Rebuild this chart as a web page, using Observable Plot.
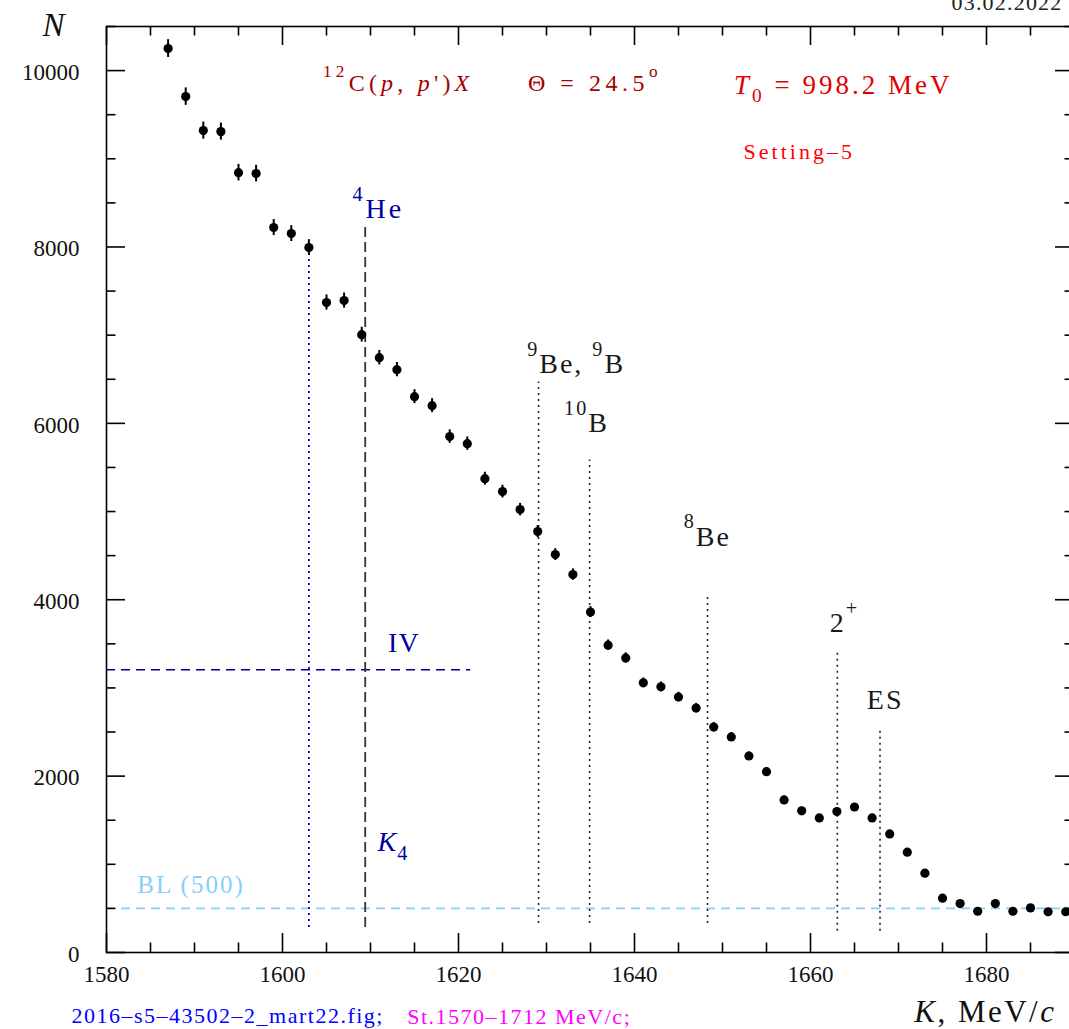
<!DOCTYPE html>
<html>
<head>
<meta charset="utf-8">
<script src="https://cdn.jsdelivr.net/npm/d3@7"></script>
<script src="https://cdn.jsdelivr.net/npm/@observablehq/plot@0.6"></script>
<style>
  html, body { margin: 0; padding: 0; background: #fff; }
  svg { display: block; }
</style>
</head>
<body>
<script>
// ---- data ----
const momentum = [1587,1589,1591,1593,1595,1597,1599,1601,1603,1605,1607,1609,1611,1613,1615,1617,1619,1621,1623,1625,1627,1629,1631,1633,1635,1637,1639,1641,1643,1645,1647,1649,1651,1653,1655,1657,1659,1661,1663,1665,1667,1669,1671,1673,1675,1677,1679,1681,1683,1685,1687,1689];
const counts = [10250,9705,9320,9308,8843,8832,8220,8152,7994,7370,7392,7006,6745,6609,6303,6201,5850,5770,5373,5226,5022,4773,4512,4285,3860,3485,3340,3058,3012,2897,2772,2556,2444,2228,2050,1730,1607,1526,1598,1650,1526,1345,1138,900,616,555,468,555,468,506,462,462];
const errors = [101,99,97,96,94,94,91,90,89,86,86,84,82,81,79,79,76,76,73,72,71,69,67,65,62,59,58,55,55,54,53,51,49,47,45,42,40,39,40,41,39,37,34,30,25,24,22,24,22,23,22,22];

const xMajor = [1580,1600,1620,1640,1660,1680];
const xMinor = [1585,1590,1595,1605,1610,1615,1625,1630,1635,1645,1650,1655,1665,1670,1675,1685,1690];
const yMajor = [0,2000,4000,6000,8000,10000];
const yMinor = [500,1000,1500,2500,3000,3500,4500,5000,5500,6500,7000,7500,8500,9000,9500,10500];

// vertical marker lines (black dotted): 9Be/9B, 10B, 8Be, 2+, ES
const dotK = [1629.1, 1634.9, 1648.3, 1663.05, 1667.9];
const dotTop = [6470, 5585, 4065, 3410, 2540];
const dotBottom = [330, 330, 330, 240, 240];
const dotLabels = ["^{9}Be, ^{9}B", "^{10}B", "^{8}Be", "2^{+}", "ES"];
const dotLabelK = [1627.8, 1632.0, 1645.6, 1662.2, 1666.4];
const dotLabelN = [6569, 5900, 4615, 3632, 2763];

// K4 (dashed black) and threshold (dotted blue)
const k4Line = [{k: 1609.4, lo: 283, hi: 8226}];
const blueLine = [{k: 1603, lo: 283, hi: 7994}];
// IV horizontal level and baseline BL
const ivLevel = [{n: 3206, from: 1580, to: 1621.4}];
const blLevel = [{n: 500, from: 1580, to: 1690}];

const blueLabels = ["^{4}He", "IV", "~{K}_{4}"];
const blueLabelK = [1607.95, 1612.0, 1610.8];
const blueLabelN = [8323, 3405, 1149];

const blLabel = ["BL (500)"];
const blLabelK = [1583.5];
const blLabelN = [680];

const title1 = ["^{12}C(~{p}, ~{p}')~{X}"], title1K = [1604.6], title1N = [9763];
const title2 = ["Θ = 24.5^{o}"], title2K = [1627.9], title2N = [9763];
const title3 = ["~{T}_{0} = 998.2 MeV"], title3K = [1651.3], title3N = [9740];
const setting = ["Setting–5"], settingK = [1652.4], settingN = [9000];

const yLabel = ["~{N}"];
const xLabel = ["~{K}, MeV/~{c}"];
const dateText = ["03.02.2022"];
const fileText = ["2016–s5–43502–2_mart22.fig;"];
const rangeText = ["St.1570–1712 MeV/c;"];

const pts = momentum.map((k, i) => ({k, n: counts[i], e: errors[i]}));

// ---- layout ----
const W = 1069, H = 1029;
const mT = 26, mB = 77, mL = 106, mR = -5;
const plotH = H - mT - mB;
const plotW = W - mL - mR;
const serif = "Liberation Serif, Times New Roman, serif";

// letter spacing (px) for each annotation text
const spacing = new Map([
  ...dotLabels.map(s => [s, 2]),
  [blueLabels[0], 3], [blueLabels[1], 1], [blueLabels[2], 1],
  [blLabel[0], 2],
  [title1[0], 4.2], [title2[0], 4.5], [title3[0], 3], [setting[0], 3],
  [xLabel[0], 2.5], [dateText[0], 1.2], [fileText[0], 1.5], [rangeText[0], 1.5]
]);

const plot = Plot.plot({
  width: W, height: H,
  marginTop: mT, marginBottom: mB, marginLeft: mL, marginRight: mR,
  x: {domain: [1580, 1690], axis: null},
  y: {domain: [0, 10500], axis: null},
  style: {fontFamily: serif, background: "white"},
  marks: [
    // reference lines
    Plot.ruleY(blLevel, {y: "n", x1: "from", x2: "to", stroke: "#87cefa", strokeWidth: 1.6, strokeDasharray: "9,6"}),
    Plot.ruleY(ivLevel, {y: "n", x1: "from", x2: "to", stroke: "#00008b", strokeWidth: 1.6, strokeDasharray: "9,6"}),
    Plot.ruleX(blueLine, {x: "k", y1: "lo", y2: "hi", stroke: "#0000b4", strokeWidth: 1.8, strokeDasharray: "2,4"}),
    Plot.ruleX(k4Line, {x: "k", y1: "lo", y2: "hi", stroke: "#333", strokeWidth: 1.8, strokeDasharray: "10,5"}),
    Plot.ruleX(dotK, {x: d => d, y1: (d, i) => dotBottom[i], y2: (d, i) => dotTop[i], stroke: "#222", strokeWidth: 1.6, strokeDasharray: "2,4"}),

    // frame and inward ticks
    Plot.frame({stroke: "black", strokeWidth: 1.6}),
    Plot.ruleX(xMajor, {x: d => d, insetTop: plotH - 19, stroke: "black", strokeWidth: 1.6}),
    Plot.ruleX(xMinor, {x: d => d, insetTop: plotH - 9.5, stroke: "black", strokeWidth: 1.6}),
    Plot.ruleX(xMajor, {x: d => d, insetBottom: plotH - 19, stroke: "black", strokeWidth: 1.6}),
    Plot.ruleX(xMinor, {x: d => d, insetBottom: plotH - 9.5, stroke: "black", strokeWidth: 1.6}),
    Plot.ruleY(yMajor, {y: d => d, insetRight: plotW - 19, stroke: "black", strokeWidth: 1.6}),
    Plot.ruleY(yMinor, {y: d => d, insetRight: plotW - 9.5, stroke: "black", strokeWidth: 1.6}),
    Plot.ruleY(yMajor, {y: d => d, insetLeft: plotW - 19, stroke: "black", strokeWidth: 1.6}),
    Plot.ruleY(yMinor, {y: d => d, insetLeft: plotW - 9.5, stroke: "black", strokeWidth: 1.6}),

    // tick labels
    Plot.axisX(xMajor, {anchor: "bottom", tickSize: 0, tickPadding: 13, fontSize: 23, fill: "#111", label: null, tickFormat: d => String(d)}),
    Plot.axisY(yMajor, {anchor: "left", tickSize: 0, tickPadding: 27, dy: 2, fontSize: 23, fill: "#111", label: null, tickFormat: d => String(d)}),

    // data: error bars + points
    Plot.ruleX(pts, {x: "k", y1: d => d.n - d.e, y2: d => d.n + d.e, stroke: "black", strokeWidth: 2}),
    Plot.dot(pts, {x: "k", y: "n", r: 4.6, fill: "black", stroke: null}),

    // annotations in data coordinates
    Plot.text(dotLabels, {x: (d, i) => dotLabelK[i], y: (d, i) => dotLabelN[i], text: d => d, textAnchor: "start", lineAnchor: "bottom", fontSize: 28, fill: "#1a1a1a"}),
    Plot.text(blueLabels, {x: (d, i) => blueLabelK[i], y: (d, i) => blueLabelN[i], text: d => d, textAnchor: "start", lineAnchor: "bottom", fontSize: 28, fill: "#0000a0"}),
    Plot.text(blLabel, {x: (d, i) => blLabelK[i], y: (d, i) => blLabelN[i], text: d => d, textAnchor: "start", lineAnchor: "bottom", fontSize: 25, fill: "#87cefa"}),
    Plot.text(title1, {x: (d, i) => title1K[i], y: (d, i) => title1N[i], text: d => d, textAnchor: "start", lineAnchor: "bottom", fontSize: 24, fill: "#a50000"}),
    Plot.text(title2, {x: (d, i) => title2K[i], y: (d, i) => title2N[i], text: d => d, textAnchor: "start", lineAnchor: "bottom", fontSize: 24, fill: "#a50000"}),
    Plot.text(title3, {x: (d, i) => title3K[i], y: (d, i) => title3N[i], text: d => d, textAnchor: "start", lineAnchor: "bottom", fontSize: 27, fill: "#e00000"}),
    Plot.text(setting, {x: (d, i) => settingK[i], y: (d, i) => settingN[i], text: d => d, textAnchor: "start", lineAnchor: "bottom", fontSize: 22, fill: "#ff0000"}),

    // texts outside the plotting area
    Plot.text(yLabel, {frameAnchor: "top-left", text: d => d, textAnchor: "start", lineAnchor: "bottom", dx: -64, dy: 9, fontSize: 33, fill: "#111"}),
    Plot.text(dateText, {frameAnchor: "top-right", text: d => d, textAnchor: "end", lineAnchor: "bottom", dx: -12, dy: -17, fontSize: 22, fill: "#222"}),
    Plot.text(fileText, {frameAnchor: "bottom-left", text: d => d, textAnchor: "start", lineAnchor: "bottom", dx: -35, dy: 70, fontSize: 22, fill: "#0000ff"}),
    Plot.text(rangeText, {frameAnchor: "bottom-left", text: d => d, textAnchor: "start", lineAnchor: "bottom", dx: 300.7, dy: 71, fontSize: 22, fill: "#ff00ff"}),
    Plot.text(xLabel, {frameAnchor: "bottom-right", text: d => d, textAnchor: "end", lineAnchor: "bottom", dx: -18, dy: 69, fontSize: 31, fill: "#111"})
  ]
});

document.body.appendChild(plot);

// letter spacing + rich text: ^{sup}, _{sub}, ~{italic}
plot.querySelectorAll("text").forEach(t => {
  const s = t.textContent;
  if (spacing.has(s)) t.style.letterSpacing = spacing.get(s) + "px";
  if (!/[\^_~]\{/.test(s)) return;
  const fs = parseFloat(getComputedStyle(t).fontSize) || 20;
  while (t.firstChild) t.removeChild(t.firstChild);
  let shift = 0;
  const add = (str, kind) => {
    if (!str) return;
    const ts = document.createElementNS("http://www.w3.org/2000/svg", "tspan");
    let target = 0;
    if (kind === "^") { target = -0.62 * fs; ts.setAttribute("font-size", (0.72 * fs).toFixed(1)); }
    else if (kind === "_") { target = 0.3 * fs; ts.setAttribute("font-size", (0.72 * fs).toFixed(1)); }
    else if (kind === "~") { ts.setAttribute("font-style", "italic"); }
    if (target - shift !== 0) ts.setAttribute("dy", (target - shift).toFixed(1));
    shift = target;
    ts.textContent = str;
    t.appendChild(ts);
  };
  const re = /([\^_~])\{([^}]*)\}/g;
  let last = 0, m;
  while ((m = re.exec(s))) {
    add(s.slice(last, m.index), "");
    add(m[2], m[1]);
    last = re.lastIndex;
  }
  add(s.slice(last), "");
});
</script>
</body>
</html>
